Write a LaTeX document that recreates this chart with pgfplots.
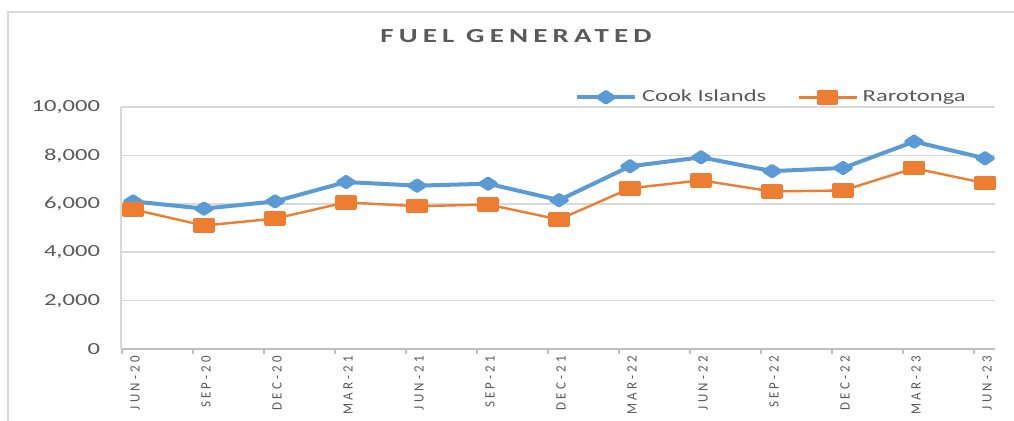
\documentclass[border=0pt]{standalone}
\usepackage{pgfplots}
\pgfplotsset{compat=1.18}
\usepackage{fontspec}
\setmainfont{Carlito}
\newfontfamily\titlefont[LetterSpace=18]{Carlito}
\newfontfamily\lblfont[LetterSpace=25]{Carlito}
\definecolor{cblue}{HTML}{5B9BD5}
\definecolor{corange}{HTML}{ED7D31}
\definecolor{txt}{HTML}{595959}
\definecolor{gridc}{HTML}{D9D9D9}
\definecolor{axc}{HTML}{BFBFBF}
\newcommand{\sx}[1]{\scalebox{1.45}[1]{#1}}
\newcommand{\xl}[1]{\scalebox{1}[1.1]{\lblfont #1}}
\begin{document}
\begin{tikzpicture}
\path[use as bounding box] (0,0) rectangle (507bp,210.5bp);
\draw[gridc, line width=1bp] (4bp,0) -- (4bp,204.5bp) -- (507bp,204.5bp);
\node[txt, font=\fontsize{10}{11}\selectfont\titlefont\bfseries] at (258bp,192.5bp) {\sx{FUEL GENERATED}};
\begin{axis}[
  at={(60.5bp,36bp)}, anchor=south west,
  scale only axis, width=437bp, height=121bp,
  xmin=-0.17, xmax=12.14, ymin=0, ymax=10000,
  scaled y ticks=false,
  axis x line*=bottom, axis y line*=left,
  x axis line style={draw=axc, line width=0.8bp},
  y axis line style={draw=gridc, line width=0.8bp},
  ytick={0,2000,4000,6000,8000,10000},
  yticklabels={{\sx{0}},{\sx{2,000}},{\sx{4,000}},{\sx{6,000}},{\sx{8,000}},{\sx{10,000}}},
  ytick style={draw=none},
  ymajorgrids, grid style={gridc, line width=0.8bp},
  yticklabel style={txt, font=\fontsize{8.5}{10}\selectfont, anchor=east, xshift=-7bp},
  xtick={0,1,2,3,4,5,6,7,8,9,10,11,12},
  xticklabels={\xl{JUN-20},\xl{SEP-20},\xl{DEC-20},\xl{MAR-21},\xl{JUN-21},\xl{SEP-21},\xl{DEC-21},\xl{MAR-22},\xl{JUN-22},\xl{SEP-22},\xl{DEC-22},\xl{MAR-23},\xl{JUN-23}},
  xtick style={draw=none},
  xticklabel style={txt, font=\fontsize{6.5}{7}\selectfont, rotate=90, anchor=east, yshift=-1bp},
  extra x ticks={-0.16,0.84,1.84,2.84,3.84,4.84,5.84,6.84,7.84,8.84,9.84,10.84,11.84},
  extra x tick labels={},
  extra x tick style={xtick style={draw=axc, line width=0.8bp}, major tick length=2.5bp, tick align=outside, xmajorgrids=false},
  legend columns=2,
  legend style={at={(axis description cs:0.519,1.04)}, anchor=west, draw=none, fill=none,
    font=\fontsize{8.5}{10}\selectfont, text=txt, inner sep=0pt,
    nodes={inner xsep=2.5bp, inner ysep=0pt},
    /tikz/every even column/.append style={column sep=13bp}},
  legend image code/.code={\draw[mark repeat=2,mark phase=2,#1] plot coordinates {(0bp,0bp) (14.5bp,0bp) (29bp,0bp)};},
]
\addplot[color=cblue, line width=2bp, line join=round, mark=diamond*, mark size=2.6bp, mark options={xscale=2, solid, fill=cblue}]
  coordinates {(0,6100) (1,5800) (2,6100) (3,6900) (4,6750) (5,6830) (6,6150) (7,7550) (8,7920) (9,7350) (10,7480) (11,8570) (12,7880)};
\addlegendentry{\sx{Cook Islands}}
\addplot[color=corange, line width=1.2bp, line join=round, mark=square*, mark size=3bp, mark options={xscale=1.6, solid, fill=corange}]
  coordinates {(0,5770) (1,5100) (2,5390) (3,6060) (4,5900) (5,5970) (6,5350) (7,6640) (8,6970) (9,6510) (10,6550) (11,7470) (12,6850)};
\addlegendentry{\sx{Rarotonga}}
\end{axis}
\end{tikzpicture}
\end{document}
